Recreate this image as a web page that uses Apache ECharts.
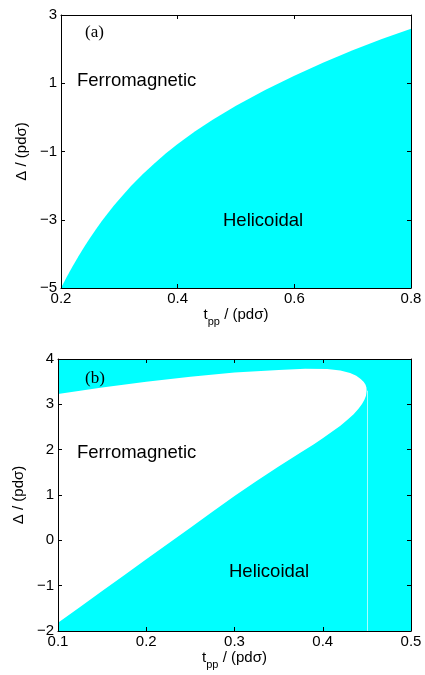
<!DOCTYPE html>
<html>
<head>
<meta charset="utf-8">
<script src="https://cdn.jsdelivr.net/npm/echarts@6/dist/echarts.min.js"></script>
<style>
  html, body { margin: 0; padding: 0; background: #fff; }
  #chart { width: 425px; height: 675px; }
</style>
</head>
<body>
<div id="chart"></div>
<script>
// panel (a): boundary between ferromagnetic (above) and helicoidal (below)
var tA = [0.2, 0.21, 0.22, 0.23, 0.24, 0.25, 0.26, 0.27, 0.28, 0.29, 0.3, 0.32, 0.34, 0.36, 0.38, 0.4, 0.43, 0.46, 0.5, 0.55, 0.6, 0.65, 0.7, 0.75, 0.8];
var dA = [-5, -4.67, -4.36, -4.07, -3.79, -3.53, -3.28, -3.04, -2.82, -2.6, -2.4, -2.01, -1.67, -1.35, -1.05, -0.78, -0.41, -0.07, 0.34, 0.8, 1.22, 1.61, 1.97, 2.3, 2.6];
var xTicksA = [0.2, 0.8, 0.2];   // min, max, step
var yTicksA = [-5, 3, 2];

// panel (b): lower and upper boundary of the ferromagnetic pocket
var lowT = [0.1, 0.125, 0.15, 0.175, 0.2, 0.225, 0.25, 0.275, 0.3, 0.325, 0.35, 0.375, 0.39, 0.4, 0.41, 0.42, 0.428, 0.435, 0.4405, 0.4445, 0.4472, 0.449, 0.4497];
var lowD = [-1.82, -1.47, -1.12, -0.77, -0.42, -0.07, 0.28, 0.63, 0.98, 1.31, 1.63, 1.94, 2.12, 2.25, 2.39, 2.53, 2.66, 2.78, 2.9, 3.01, 3.1, 3.19, 3.3];
var upT = [0.1, 0.15, 0.2, 0.25, 0.3, 0.35, 0.38, 0.405, 0.42, 0.431, 0.438, 0.443, 0.4465, 0.4485, 0.4495, 0.4497];
var upD = [3.23, 3.37, 3.5, 3.61, 3.7, 3.76, 3.785, 3.78, 3.745, 3.69, 3.63, 3.56, 3.49, 3.43, 3.37, 3.3];
var xTicksB = [0.1, 0.5, 0.1];
var yTicksB = [-2, 4, 1];

var CYAN = '#00ffff';
var FONT = 'Liberation Sans';

function fmt(v, dec) {
  return v.toFixed(dec).replace('-', '\u2212');
}

function makeX(gi, ticks, pos) {
  var bottom = pos === 'bottom';
  return {
    type: 'value', gridIndex: gi, position: pos, z: 5,
    min: ticks[0], max: ticks[1], interval: ticks[2],
    name: bottom ? '{a|t}{s|pp}{a| / (pd\u03c3)}' : '',
    nameLocation: 'middle', nameGap: 19,
    nameTextStyle: {
      rich: {
        a: { fontFamily: FONT, fontSize: 15, color: '#000', verticalAlign: 'top', lineHeight: 17 },
        s: { fontFamily: FONT, fontSize: 11, color: '#000', verticalAlign: 'top', lineHeight: 13, padding: [9, 0, 0, 0] }
      }
    },
    axisLine: { show: true, onZero: false, lineStyle: { color: '#000', width: 1 } },
    axisTick: { show: true, inside: true, length: 4, lineStyle: { color: '#000' } },
    axisLabel: {
      show: bottom, margin: 3, fontFamily: FONT, fontSize: 15, color: '#000',
      formatter: function (v) { return fmt(v, 1); }
    },
    splitLine: { show: false }
  };
}

function makeY(gi, ticks, pos, gap) {
  var left = pos === 'left';
  return {
    type: 'value', gridIndex: gi, position: pos, z: 5,
    min: ticks[0], max: ticks[1], interval: ticks[2],
    name: left ? '\u0394 / (pd\u03c3)' : '',
    nameLocation: 'middle', nameGap: gap, nameRotate: 90,
    nameTextStyle: { fontFamily: FONT, fontSize: 15, color: '#000' },
    axisLine: { show: true, onZero: false, lineStyle: { color: '#000', width: 1 } },
    axisTick: { show: true, inside: true, length: 4, lineStyle: { color: '#000' } },
    axisLabel: {
      show: left, margin: 4, fontFamily: FONT, fontSize: 15, color: '#000',
      formatter: function (v) { return fmt(v, 0); }
    },
    splitLine: { show: false }
  };
}

var dataA = tA.map(function (t, i) { return [t, dA[i]]; });

function renderB(params, api) {
  var pts = [api.coord([xTicksB[0], yTicksB[0]])];
  for (var i = 0; i < lowT.length; i++) pts.push(api.coord([lowT[i], lowD[i]]));
  for (var j = upT.length - 1; j >= 0; j--) pts.push(api.coord([upT[j], upD[j]]));
  pts.push(api.coord([xTicksB[0], yTicksB[1]]));
  pts.push(api.coord([xTicksB[1], yTicksB[1]]));
  pts.push(api.coord([xTicksB[1], yTicksB[0]]));
  var tip = lowT[lowT.length - 1];
  var p1 = api.coord([tip, lowD[lowD.length - 1]]);
  var p2 = api.coord([tip, yTicksB[0]]);
  return {
    type: 'group',
    children: [
      { type: 'polygon', shape: { points: pts }, style: { fill: CYAN } },
      { type: 'line', shape: { x1: Math.round(p1[0]) + 0.5, y1: p1[1], x2: Math.round(p2[0]) + 0.5, y2: p2[1] },
        style: { stroke: '#a8ffff', lineWidth: 1 } }
    ]
  };
}

var chart = echarts.init(document.getElementById('chart'));
chart.setOption({
  animation: false,
  backgroundColor: '#fff',
  grid: [
    { left: 61, top: 15, width: 350, height: 273 },
    { left: 58, top: 359, width: 353, height: 272 }
  ],
  xAxis: [
    makeX(0, xTicksA, 'bottom'), makeX(0, xTicksA, 'top'),
    makeX(1, xTicksB, 'bottom'), makeX(1, xTicksB, 'top')
  ],
  yAxis: [
    makeY(0, yTicksA, 'left', 29), makeY(0, yTicksA, 'right', 0),
    makeY(1, yTicksB, 'left', 26), makeY(1, yTicksB, 'right', 0)
  ],
  series: [
    {
      type: 'line', xAxisIndex: 0, yAxisIndex: 0, data: dataA,
      symbol: 'none', smooth: false,
      lineStyle: { width: 0, color: CYAN },
      areaStyle: { color: CYAN, opacity: 1, origin: 'start' }
    },
    {
      type: 'custom', xAxisIndex: 2, yAxisIndex: 2, data: [0],
      renderItem: renderB
    }
  ],
  graphic: [
    { type: 'text', z: 100, left: 85, top: 24, style: { text: '(a)', font: '17px "Liberation Serif"', fill: '#000' } },
    { type: 'text', z: 100, x: 77, y: 81, style: { text: 'Ferromagnetic', font: '18.5px "Liberation Sans"', fill: '#000', verticalAlign: 'middle' } },
    { type: 'text', z: 100, x: 223, y: 221, style: { text: 'Helicoidal', font: '18.5px "Liberation Sans"', fill: '#000', verticalAlign: 'middle' } },
    { type: 'text', z: 100, left: 85, top: 370, style: { text: '(b)', font: '17px "Liberation Serif"', fill: '#000' } },
    { type: 'text', z: 100, x: 77, y: 453, style: { text: 'Ferromagnetic', font: '18.5px "Liberation Sans"', fill: '#000', verticalAlign: 'middle' } },
    { type: 'text', z: 100, x: 229, y: 572, style: { text: 'Helicoidal', font: '18.5px "Liberation Sans"', fill: '#000', verticalAlign: 'middle' } }
  ]
});
</script>
</body>
</html>
